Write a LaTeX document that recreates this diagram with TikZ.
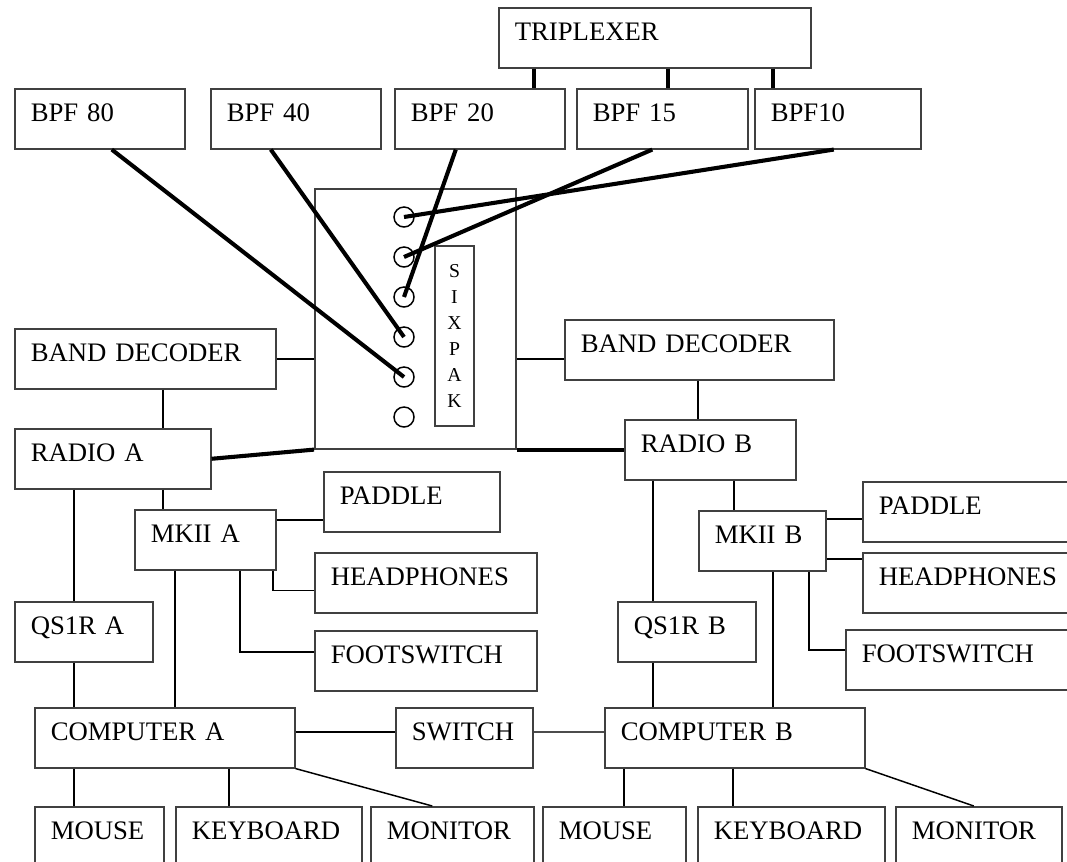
\documentclass[tikz,border=0pt]{standalone}
\usepackage{fontspec}
\setmainfont{Liberation Serif}
\usetikzlibrary{calc}
\tikzstyle{ln} = [line width=1.05pt]
\tikzstyle{med} = [line width=1.7pt]
\tikzstyle{mid} = [line width=2.4pt]
\tikzstyle{thk} = [line width=2.9pt]

\begin{document}
\begin{tikzpicture}[
  x=0.025cm, y=-0.025cm,
  every node/.style={font=\fontsize{19}{22}\selectfont},
  blk/.style={draw=black!75, line width=1.1pt, rectangle, anchor=north west,
    inner xsep=0.4cm, inner ysep=0pt, minimum height=1.5cm,
    text height=0.44cm, text depth=0.3cm, align=left},
  bw/.code={\pgfmathsetlengthmacro\blkw{#1*0.025cm}%
    \pgfmathsetlengthmacro\blktw{(#1-32)*0.025cm}%
    \pgfkeysalso{minimum width=\blkw, text width=\blktw}},
  port/.style={draw, circle, line width=1.05pt, minimum size=0.5cm, inner sep=0pt},
  tag/.style={draw=black!75, line width=1.1pt, minimum width=0.975cm, minimum height=4.5cm,
    inner sep=0pt, align=center, font=\fontsize{14}{18.5}\selectfont}
]
\useasboundingbox (0,0) rectangle (1067,862);
\clip (0,0) rectangle (1067,862);

% Filters
\node[blk, bw=312] (trip) at (498,7) {TRIPLEXER};
\node[blk, bw=170] (bpf80) at (14,88) {BPF 80};
\node[blk, bw=170] (bpf40) at (210,88) {BPF 40};
\node[blk, bw=170] (bpf20) at (394,88) {BPF 20};
\node[blk, bw=171] (bpf15) at (576,88) {BPF 15};
\node[blk, bw=166] (bpf10) at (754,88) {BPF10};

% Sixpak
\node[draw=black!75, line width=1.1pt, anchor=north west, minimum width=5.025cm,
  minimum height=6.5cm, inner sep=0pt] (six) at (314,188) {};
\node[port] (c1) at (404,217) {};
\node[port] (c2) at (404,257) {};
\node[port] (c3) at (404,297) {};
\node[port] (c4) at (404,337) {};
\node[port] (c5) at (404,377) {};
\node[port] (c6) at (404,417) {};
\node[tag] (sixlbl) at (454.5,336) {S\\I\\X\\P\\A\\K};

% Station A
\node[blk, bw=261] (bdA) at (14,328) {BAND DECODER};
\node[blk, bw=196] (radA) at (14,428) {RADIO A};
\node[blk, bw=141] (mkA) at (134,509) {MKII A};
\node[blk, bw=176] (padA) at (323,471) {PADDLE};
\node[blk, bw=222] (hpA) at (314,552) {HEADPHONES};
\node[blk, bw=222] (fsA) at (314,630) {FOOTSWITCH};
\node[blk, bw=138] (qsA) at (14,601) {QS1R A};
\node[blk, bw=260] (compA) at (34,707) {COMPUTER A};
\node[blk, bw=129] (mouseA) at (34,806) {MOUSE};
\node[blk, bw=186] (kbA) at (175,806) {KEYBOARD};
\node[blk, bw=163] (monA) at (370,806) {MONITOR};

\node[blk, bw=137] (sw) at (395,707) {SWITCH};

% Station B
\node[blk, bw=269] (bdB) at (564,319) {BAND DECODER};
\node[blk, bw=171] (radB) at (624,419) {RADIO B};
\node[blk, bw=127] (mkB) at (698,510) {MKII B};
\node[blk, bw=230] (padB) at (862,481) {PADDLE};
\node[blk, bw=230] (hpB) at (862,552) {HEADPHONES};
\node[blk, bw=250] (fsB) at (845,629) {FOOTSWITCH};
\node[blk, bw=138] (qsB) at (617,601) {QS1R B};
\node[blk, bw=260] (compB) at (604,707) {COMPUTER B};
\node[blk, bw=143] (mouseB) at (542,806) {MOUSE};
\node[blk, bw=187] (kbB) at (697,806) {KEYBOARD};
\node[blk, bw=166] (monB) at (895,806) {MONITOR};

% Column positions of the vertical wires
\coordinate (t1) at (534,0);
\coordinate (t2) at (668,0);
\coordinate (t3) at (773,0);
\coordinate (xa1) at (163,0);
\coordinate (xa2) at (74,0);
\coordinate (xa3) at (175,0);
\coordinate (xa4) at (240,0);
\coordinate (xa5) at (273,0);
\coordinate (xa6) at (229,0);
\coordinate (xb1) at (698,0);
\coordinate (xb2) at (653,0);
\coordinate (xb3) at (734,0);
\coordinate (xb4) at (773,0);
\coordinate (xb5) at (809,0);
\coordinate (xb6) at (624,0);
\coordinate (xb7) at (733,0);

% Triplexer to filters
\draw[mid] (t1 |- trip.south) -- (t1 |- bpf20.north);
\draw[mid] (t2 |- trip.south) -- (t2 |- bpf15.north);
\draw[mid] (t3 |- trip.south) -- (t3 |- bpf10.north);

% Filters to Sixpak ports
\draw[thk] ($(bpf80.south)+(12,0)$) -- (c5.center);
\draw[thk] ($(bpf40.south)+(-25,0)$) -- (c4.center);
\draw[thk] ($(bpf20.south)+(-24,0)$) -- (c3.center);
\draw[thk] ($(bpf15.south)+(-10,0)$) -- (c2.center);
\draw[thk] ($(bpf10.south)+(-4,0)$) -- (c1.center);

% Radios to Sixpak
\draw[thk] (radA.east) -- (six.south west);
\draw[thk] (six.south east) -- (six.south east -| radB.west);
\draw[ln] (bdA.east) -- (bdA.east -| six.west);
\draw[ln] (six.east |- bdA.east) -- (bdB.west |- bdA.east);

% Station A wiring
\draw[ln] (xa1 |- bdA.south) -- (xa1 |- radA.north);
\draw[ln] (xa1 |- radA.south) -- (xa1 |- mkA.north);
\draw[ln] (xa2 |- radA.south) -- (xa2 |- qsA.north);
\draw[med] (xa2 |- qsA.south) -- (xa2 |- compA.north);
\draw[ln] (xa3 |- mkA.south) -- (xa3 |- compA.north);
\draw[ln] ([yshift=0.5cm]mkA.east) -- ([yshift=0.5cm]mkA.east -| padA.west);
\draw[ln] (xa5 |- mkA.south) |- ([yshift=-0.19cm]hpA.west);
\draw[ln] (xa4 |- mkA.south) |- ([yshift=0.225cm]fsA.west);
\draw[ln] (xa2 |- compA.south) -- (xa2 |- mouseA.north);
\draw[ln] (xa6 |- compA.south) -- (xa6 |- kbA.north);
\draw[ln] (compA.south east) -- ($(monA.north)+(-20,0)$);

% Network switch
\draw[ln] ([yshift=0.15cm]compA.east) -- ([yshift=0.15cm]compA.east -| sw.west);
\draw[med, black!70] ([yshift=0.15cm]sw.east) -- ([yshift=0.15cm]sw.east -| compB.west);

% Station B wiring
\draw[ln] (xb1 |- bdB.south) -- (xb1 |- radB.north);
\draw[ln] (xb2 |- radB.south) -- (xb2 |- qsB.north);
\draw[ln] (xb2 |- qsB.south) -- (xb2 |- compB.north);
\draw[ln] (xb3 |- radB.south) -- (xb3 |- mkB.north);
\draw[ln] (xb4 |- mkB.south) -- (xb4 |- compB.north);
\draw[ln] ([yshift=0.54cm]mkB.east) -- ([yshift=0.54cm]mkB.east -| padB.west);
\draw[ln] ([yshift=-0.46cm]mkB.east) -- ([yshift=-0.46cm]mkB.east -| hpB.west);
\draw[ln] (xb5 |- mkB.south) |- ([yshift=0.24cm]fsB.west);
\draw[ln] (xb6 |- compB.south) -- (xb6 |- mouseB.north);
\draw[ln] (xb7 |- compB.south) -- (xb7 |- kbB.north);
\draw[ln] (compB.south east) -- ($(monB.north)+(-5,0)$);
\end{tikzpicture}
\end{document}
